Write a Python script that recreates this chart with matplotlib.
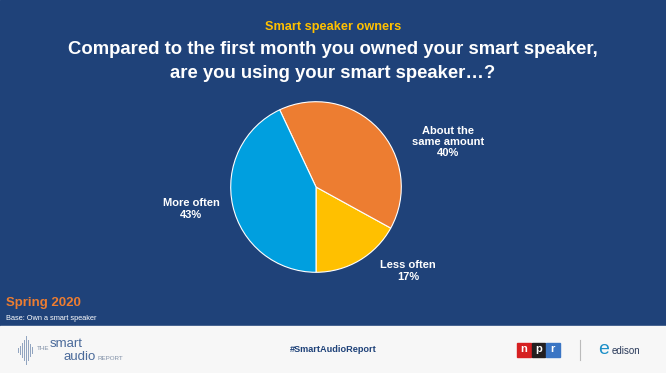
import matplotlib.pyplot as plt
from matplotlib.patches import Rectangle

plt.rcParams['font.family'] = ['Liberation Sans', 'DejaVu Sans']

# Survey answers (share of smart speaker owners)
answers = ["Less often", "About the same amount", "More often"]
shares = [17, 40, 43]
colors = ["#FFC000", "#ED7D31", "#009FDF"]
label_text = ["Less often\n17%", "About the\nsame amount\n40%", "More often\n43%"]
label_pos = [(408, 271), (448, 142), (191, 209)]

bg_blue = "#1F4279"

fig = plt.figure(figsize=(6.66, 3.73), dpi=100)
fig.patch.set_facecolor("white")

# Full-figure axes in pixel coordinates for the slide layout
bg = fig.add_axes([0, 0, 1, 1])
bg.set_xlim(0, 666)
bg.set_ylim(373, 0)
bg.axis("off")
bg.add_patch(Rectangle((0, 0), 666, 326, color=bg_blue, zorder=0))
bg.add_patch(Rectangle((0, 326), 666, 47, color="#F7F7F7", zorder=0))

bg.text(333, 27, "Smart speaker owners", color="#FFC000", fontsize=9.2,
        fontweight="bold", ha="center", va="center")
bg.text(333, 49, "Compared to the first month you owned your smart speaker,",
        color="white", fontsize=13.3, fontweight="bold", ha="center", va="center")
bg.text(333, 73, "are you using your smart speaker\u2026?",
        color="white", fontsize=13.3, fontweight="bold", ha="center", va="center")

for txt, (x, y) in zip(label_text, label_pos):
    bg.text(x, y, txt, color="white", fontsize=8, fontweight="bold",
            ha="center", va="center", linespacing=1.15)

bg.text(6, 303, "Spring 2020", color="#ED7D31", fontsize=9.5,
        fontweight="bold", ha="left", va="center")
bg.text(6, 319, "Base: Own a smart speaker", color="white", fontsize=5.3,
        ha="left", va="center")

# Footer
for i, h in enumerate([4, 8, 14, 20, 28, 20, 12, 6]):
    bg.plot([18 + i * 2.0, 18 + i * 2.0], [350 - h / 2, 350 + h / 2],
            color="#8FA3BF", lw=0.7)
bg.text(37, 349, "THE", color="#7F8FA6", fontsize=4.5, ha="left", va="center")
bg.text(50, 344, "smart", color="#4A6A9A", fontsize=9.5, ha="left", va="center")
bg.text(64, 357, "audio", color="#4A6A9A", fontsize=9.5, ha="left", va="center")
bg.text(97, 359, "REPORT", color="#7F8FA6", fontsize=4.5, ha="left", va="center")
bg.text(333, 350, "#SmartAudioReport", color=bg_blue, fontsize=6.6,
        fontweight="bold", ha="center", va="center")

for i, (ch, c) in enumerate(zip("npr", ["#D62021", "#231F20", "#3A75C4"])):
    bg.add_patch(Rectangle((517 + i * 14.5, 343), 13.5, 14, color=c))
    bg.text(523.7 + i * 14.5, 349.5, ch, color="white", fontsize=8,
            fontweight="bold", ha="center", va="center")
bg.plot([580, 580], [340, 360], color="#BBBBBB", lw=0.8)
bg.text(604, 349, "e", color="#1E90C8", fontsize=14, ha="center", va="center")
bg.text(612, 351, "edison", color="#2A3A5A", fontsize=7, ha="left", va="center")

# Pie chart
ax = fig.add_axes([229 / 666, (373 - 274) / 373, 174 / 666, 174 / 373])
ax.pie(shares, colors=colors, startangle=-90, counterclock=True,
       wedgeprops=dict(edgecolor="white", linewidth=0.8))
ax.set_xlim(-1.02, 1.02)
ax.set_ylim(-1.02, 1.02)
ax.set_aspect("equal")

fig.savefig("out.png", dpi=100, facecolor=fig.get_facecolor())
